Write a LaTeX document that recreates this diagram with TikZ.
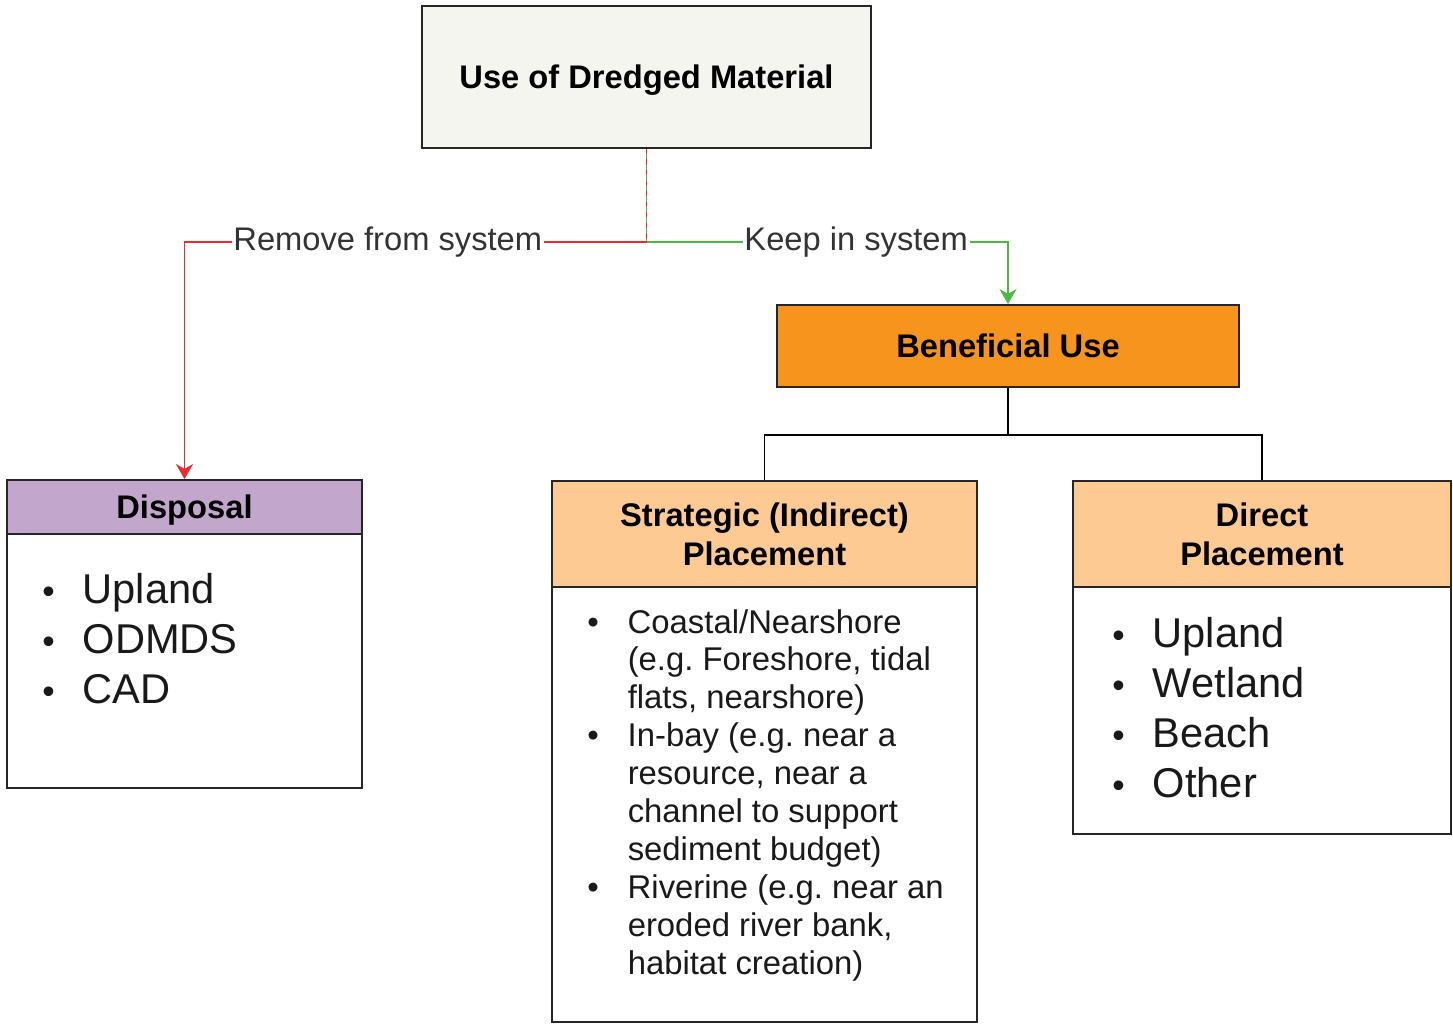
\documentclass[tikz,border=0pt]{standalone}
\usepackage{graphicx}
\usepackage{fontspec}
\setmainfont{Liberation Sans}
\usetikzlibrary{arrows.meta}
\frenchspacing

\definecolor{topfill}{RGB}{245,245,239}
\definecolor{benorange}{RGB}{247,148,30}
\definecolor{peach}{RGB}{253,202,148}
\definecolor{lilac}{RGB}{195,166,203}
\definecolor{redline}{RGB}{240,40,45}
\definecolor{greenline}{RGB}{76,185,68}

\newcommand{\itm}{\makebox[23pt][l]{\textbullet}}
\newcommand{\bitm}{\makebox[23pt][l]{\scalebox{0.85}{\textbullet}}}
\newcommand{\ind}{\hspace*{23pt}}

\begin{document}
\begin{tikzpicture}[x=0.02cm, y=-0.02cm,
	box/.style={draw=black!85, line width=1.1pt, inner sep=0pt, align=center,
		font=\fontsize{18.6pt}{22.2pt}\selectfont\bfseries},
	lbl/.style={fill=white, inner sep=1pt, text=black!80,
		font=\fontsize{18.6pt}{22pt}\selectfont},
	biglist/.style={anchor=base west, inner sep=0pt, text=black!90,
		font=\fontsize{23.7pt}{28.5pt}\selectfont},
	smalllist/.style={anchor=base west, inner sep=0pt, text=black!90,
		font=\fontsize{18.7pt}{21.6pt}\selectfont},
	link/.style={line width=1.1pt, -{Stealth[length=0.3cm, width=0.34cm]}}]
	\useasboundingbox (0,0) rectangle (1453,1024);
	
	\node[box, fill=topfill, text depth=0pt, minimum width=8.98cm, minimum height=2.84cm] (use) at (646.5,77) {Use of Dredged Material};
	\node[box, fill=benorange, text depth=0pt, minimum width=9.24cm, minimum height=1.64cm] (ben) at (1008,346) {Beneficial Use};
	
	\node[box, minimum width=7.1cm, minimum height=5.08cm] (dispbody) at (184.5,661) {};
	\node[box, fill=lilac, text depth=0pt, minimum width=7.1cm, minimum height=1.08cm] (disp) at (184.5,507) {Disposal};
	\node[box, minimum width=8.5cm, minimum height=8.72cm] (stratbody) at (764.5,804) {};
	\node[box, fill=peach, minimum width=8.5cm, minimum height=2.12cm] (strat) at (764.5,534) {Strategic (Indirect)\\Placement};
	\node[box, minimum width=7.56cm, minimum height=4.96cm] (dirbody) at (1262,710) {};
	\node[box, fill=peach, minimum width=7.56cm, minimum height=2.12cm] (dir) at (1262,534) {Direct\\Placement};
	
	\node[biglist] (displist) at (42,603) {\begin{tabular}[t]{@{}l@{}}
		\bitm Upland\\ \bitm ODMDS\\ \bitm CAD\end{tabular}};
	\node[smalllist] (stratlist) at (587,633) {\begin{tabular}[t]{@{}l@{}}
		\itm Coastal/Nearshore\\ \ind (e.g. Foreshore, tidal\\ \ind flats, nearshore)\\
		\itm In-bay (e.g. near a\\ \ind resource, near a\\ \ind channel to support\\ \ind sediment budget)\\
		\itm Riverine (e.g. near an\\ \ind eroded river bank,\\ \ind habitat creation)\end{tabular}};
	\node[biglist] (dirlist) at (1112,647) {\begin{tabular}[t]{@{}l@{}}
		\bitm Upland\\ \bitm Wetland\\ \bitm Beach\\ \bitm Other\end{tabular}};
	
	\coordinate (split) at (646.5,242);
	\coordinate (fork) at (1008,435);
	
	% shared stem, red dashes over green
	\draw[greenline, line width=1.1pt] (use.south) -- (split);
	\draw[redline, line width=1.1pt, dash pattern=on 3pt off 3pt] (use.south) -- (split);
	\draw[link, redline] (split) -| node[lbl, pos=0.28] {Remove from system} (disp.north);
	\draw[link, greenline] (split) -| node[lbl, pos=0.29] {Keep in system} (ben.north);
	
	\draw[line width=1.1pt] (ben.south) -- (fork) -| (strat.north);
	\draw[line width=1.1pt] (fork) -| (dir.north);
\end{tikzpicture}
\end{document}
